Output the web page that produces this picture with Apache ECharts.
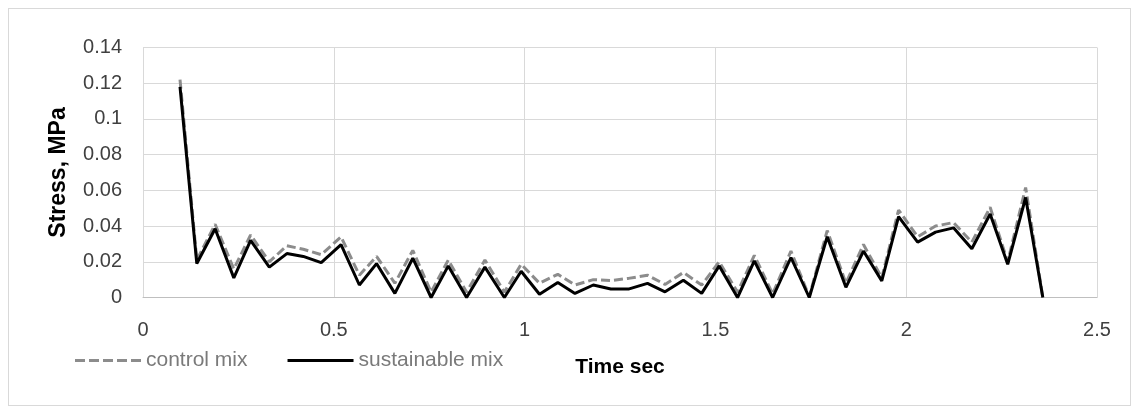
<!DOCTYPE html>
<html>
<head>
<meta charset="utf-8">
<style>
  html, body { margin: 0; padding: 0; background: #fff; }
  #chart { position: absolute; left: 0; top: 0; width: 1138px; height: 407px; }
  #frame { position: absolute; left: 8px; top: 8px; width: 1121px; height: 396px; border: 1px solid #d9d9d9; pointer-events: none; }
</style>
<script src="https://cdn.jsdelivr.net/npm/echarts@6/dist/echarts.min.js"></script>
</head>
<body>
<div id="chart"></div>
<div id="frame"></div>
<script>
// time values (sec)
const times = [
  0.097, 0.141, 0.189, 0.238, 0.282, 0.331, 0.377, 0.420, 0.467, 0.519,
  0.567, 0.612, 0.660, 0.707, 0.755, 0.800, 0.848, 0.896, 0.947, 0.991,
  1.039, 1.087, 1.132, 1.180, 1.226, 1.272, 1.322, 1.368, 1.416, 1.464,
  1.510, 1.558, 1.602, 1.650, 1.698, 1.746, 1.793, 1.842, 1.888, 1.936,
  1.980, 2.030, 2.077, 2.124, 2.172, 2.220, 2.266, 2.313, 2.358
]

// stress, MPa
const controlMix = [
  0.122, 0.021, 0.041, 0.016, 0.035, 0.020, 0.029, 0.027, 0.024, 0.034,
  0.0125, 0.023, 0.008, 0.0264, 0.003, 0.021, 0.003, 0.021, 0.003, 0.0186,
  0.008, 0.013, 0.007, 0.010, 0.0095, 0.0107, 0.0125, 0.0073, 0.014, 0.007,
  0.020, 0.003, 0.0236, 0.002, 0.026, 0.0005, 0.0375, 0.008, 0.0297, 0.011,
  0.049, 0.034, 0.040, 0.042, 0.031, 0.0505, 0.020, 0.0616, 0
]

const sustainableMix = [
  0.118, 0.019, 0.0385, 0.011, 0.032, 0.017, 0.0246, 0.023, 0.0195, 0.0296,
  0.007, 0.019, 0.0023, 0.022, 0, 0.0177, 0, 0.017, 0, 0.0147,
  0.0018, 0.0084, 0.0023, 0.007, 0.0048, 0.0047, 0.0079, 0.0032, 0.0097, 0.0023,
  0.0177, 0, 0.0205, 0, 0.0224, 0, 0.034, 0.0057, 0.026, 0.0093,
  0.0453, 0.031, 0.0366, 0.039, 0.0273, 0.0468, 0.0186, 0.056, 0
]

const xTicks = { min: 0, max: 2.5, interval: 0.5 }
const yTicks = { min: 0, max: 0.14, interval: 0.02 }

const font = 'Liberation Sans, Arial, sans-serif'
const chart = echarts.init(document.getElementById('chart'))

const pairs = (vals) => times.map((t, i) => [t, vals[i]])

// legend icons: dashed and solid strokes (66 x 3)
const dashIcon = 'path://M0 0h10v3h-10zM14 0h10v3h-10zM28 0h10v3h-10zM42 0h10v3h-10zM56 0h10v3h-10z'
const solidIcon = 'path://M0 0h66v3h-66z'

chart.setOption({
  animation: false,
  backgroundColor: '#fff',
  grid: { left: 143, right: 41, top: 47.5, bottom: 109.5 },
  legend: {
    left: 70,
    top: 345,
    itemWidth: 66,
    itemHeight: 3,
    itemGap: 40,
    textStyle: { fontFamily: font, fontSize: 21, color: '#7a7a7a' },
    data: [
      { name: 'control mix', icon: dashIcon },
      { name: 'sustainable mix', icon: solidIcon }
    ]
  },
  xAxis: {
    type: 'value',
    ...xTicks,
    name: 'Time sec',
    nameLocation: 'middle',
    nameGap: 59,
    nameTextStyle: { fontFamily: font, fontSize: 21, fontWeight: 'bold', color: '#000' },
    axisLine: { show: true, lineStyle: { color: '#bfbfbf', width: 1 } },
    axisTick: { show: false },
    axisLabel: { margin: 23, fontFamily: font, fontSize: 20, color: '#404040' },
    splitLine: { show: true, lineStyle: { color: '#d9d9d9', width: 1 } }
  },
  yAxis: {
    type: 'value',
    ...yTicks,
    name: 'Stress, MPa',
    nameLocation: 'middle',
    nameGap: 73,
    nameTextStyle: { fontFamily: font, fontSize: 23, fontWeight: 'bold', color: '#000' },
    axisLine: { show: false },
    axisTick: { show: false },
    axisLabel: { margin: 21, fontFamily: font, fontSize: 20, color: '#404040' },
    splitLine: { show: true, lineStyle: { color: '#d9d9d9', width: 1 } }
  },
  series: [
    {
      name: 'control mix',
      type: 'line',
      data: pairs(controlMix),
      symbol: 'none',
      color: '#8c8c8c',
      lineStyle: { color: '#8c8c8c', width: 3, type: [9, 4] },
      z: 2
    },
    {
      name: 'sustainable mix',
      type: 'line',
      data: pairs(sustainableMix),
      symbol: 'none',
      color: '#000',
      lineStyle: { color: '#000', width: 3 },
      z: 3
    }
  ]
})
</script>
</body>
</html>
